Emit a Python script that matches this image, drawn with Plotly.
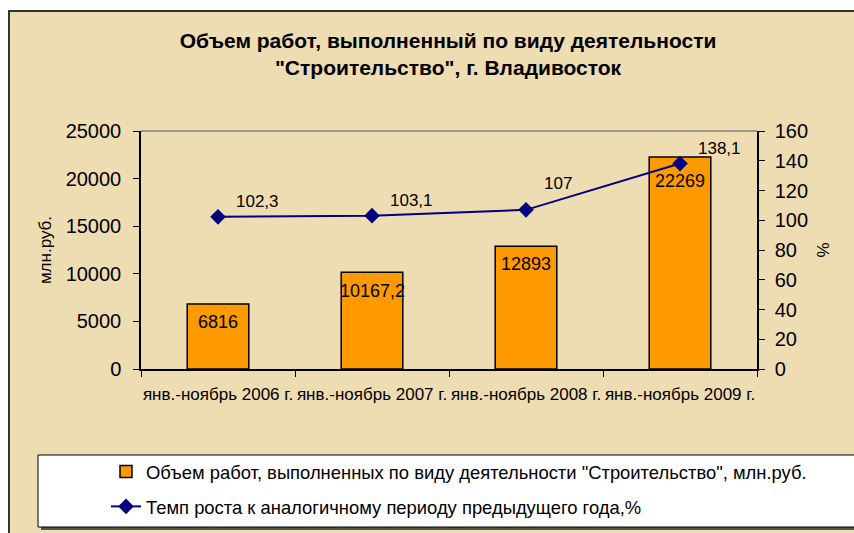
import plotly.graph_objects as go

# ---- data ----
categories = ["янв.-ноябрь 2006 г.", "янв.-ноябрь 2007 г.", "янв.-ноябрь 2008 г.", "янв.-ноябрь 2009 г."]
volume = [6816, 10167.2, 12893, 22269]          # млн.руб.
growth = [102.3, 103.1, 107, 138.1]             # %
y_left_ticks = [0, 5000, 10000, 15000, 20000, 25000]
y_right_ticks = [0, 20, 40, 60, 80, 100, 120, 140, 160]

title_text = "Объем работ, выполненный по виду деятельности<br>\"Строительство\", г. Владивосток"
bar_name = "Объем работ, выполненных по виду деятельности \"Строительство\", млн.руб."
line_name = "Темп роста к аналогичному периоду предыдущего года,%"

# ---- layout geometry (pixels) ----
W_PX, H_PX = 854, 533
L, R, T, B = 141, 757, 131, 369
PW, PH = R - L, B - T

def px_x(p):
    return (p - L) / PW

def px_y(p):
    return (B - p) / PH

def fmt(v):
    return f"{v:g}".replace(".", ",")

FONT = "Arial, 'Liberation Sans', sans-serif"
BAR_LABEL_SHIFT = [-18, -19, -18, -24]
LINE_LABEL_SHIFT = [15, 15, 26, 15]

fig = go.Figure()
fig.add_trace(go.Bar(
    x=categories, y=volume, name=bar_name, width=0.4,
    marker=dict(color="#FF9900", line=dict(color="black", width=1.5)),
    legendgroup="a", yaxis="y",
))
fig.add_trace(go.Scatter(
    x=categories, y=growth, name=line_name, yaxis="y2", mode="lines+markers",
    line=dict(color="#000080", width=2),
    marker=dict(symbol="diamond", size=12, color="#000080"),
    legendgroup="b",
))

annotations = []
for i, c in enumerate(categories):
    annotations.append(dict(x=c, y=volume[i], xref="x", yref="y", text=fmt(volume[i]),
                            showarrow=False, yanchor="middle", yshift=BAR_LABEL_SHIFT[i],
                            font=dict(family=FONT, size=18, color="black")))
    annotations.append(dict(x=c, y=growth[i], xref="x", yref="y2", text=fmt(growth[i]),
                            showarrow=False, xanchor="left", xshift=16, yanchor="middle",
                            yshift=LINE_LABEL_SHIFT[i],
                            font=dict(family=FONT, size=17, color="black")))

shapes = [
    # outer frame
    dict(type="rect", xref="paper", yref="paper", layer="below",
         x0=px_x(9), x1=px_x(870), y0=px_y(550), y1=px_y(11),
         fillcolor="#EEDCB2", line=dict(color="#333333", width=2)),
    # plot area top border
    dict(type="line", xref="paper", yref="paper", x0=0, x1=1, y0=1, y1=1,
         line=dict(color="#808080", width=1.5)),
    # legend shadow
    dict(type="rect", xref="paper", yref="paper", layer="below",
         x0=px_x(41), x1=px_x(870), y0=px_y(530), y1=px_y(458),
         fillcolor="#555555", line=dict(width=0)),
    # legend box
    dict(type="rect", xref="paper", yref="paper", layer="below",
         x0=px_x(38), x1=px_x(870), y0=px_y(527), y1=px_y(455),
         fillcolor="white", line=dict(color="black", width=1)),
]

fig.update_layout(
    width=W_PX, height=H_PX,
    margin=dict(l=L, r=W_PX - R, t=T, b=H_PX - B, autoexpand=False),
    paper_bgcolor="white",
    plot_bgcolor="#B2CB7E",
    font=dict(family=FONT, color="black"),
    title=dict(text=title_text, x=448 / W_PX, xanchor="center", y=1 - 48 / H_PX,
               yanchor="middle", yref="container",
               font=dict(family=FONT, size=21, color="black", weight="bold")),
    bargap=0.6,
    showlegend=True,
    legend=dict(x=px_x(106), xanchor="left", y=px_y(453), yanchor="top",
                bgcolor="rgba(0,0,0,0)", borderwidth=0,
                traceorder="grouped", tracegroupgap=8,
                font=dict(family=FONT, size=18.4, color="black")),
    xaxis=dict(type="category", showgrid=False, showline=True, linecolor="black", linewidth=1.5,
               ticks="outside", ticklen=6, tickcolor="black", tickson="boundaries",
               tickfont=dict(family=FONT, size=17), ticklabelstandoff=9, tickangle=0,
               fixedrange=True),
    yaxis=dict(range=[0, 25000], tickvals=y_left_ticks, tickformat="d",
               showgrid=False, showline=True, linecolor="black", linewidth=1.5,
               ticks="outside", ticklen=6, tickcolor="black",
               tickfont=dict(family=FONT, size=20), ticklabelstandoff=8,
               title=dict(text="млн.руб.", font=dict(family=FONT, size=17), standoff=10),
               zeroline=False),
    yaxis2=dict(range=[0, 160], tickvals=y_right_ticks, overlaying="y", side="right",
                showgrid=False, showline=True, linecolor="black", linewidth=1.5,
                ticks="outside", ticklen=6, tickcolor="black",
                tickfont=dict(family=FONT, size=20), ticklabelstandoff=6,
                title=dict(text="%", font=dict(family=FONT, size=17), standoff=10),
                zeroline=False),
    annotations=annotations,
    shapes=shapes,
)

fig.write_html("out.html", config={"displayModeBar": False},
               post_script="document.body.style.margin='0';")
